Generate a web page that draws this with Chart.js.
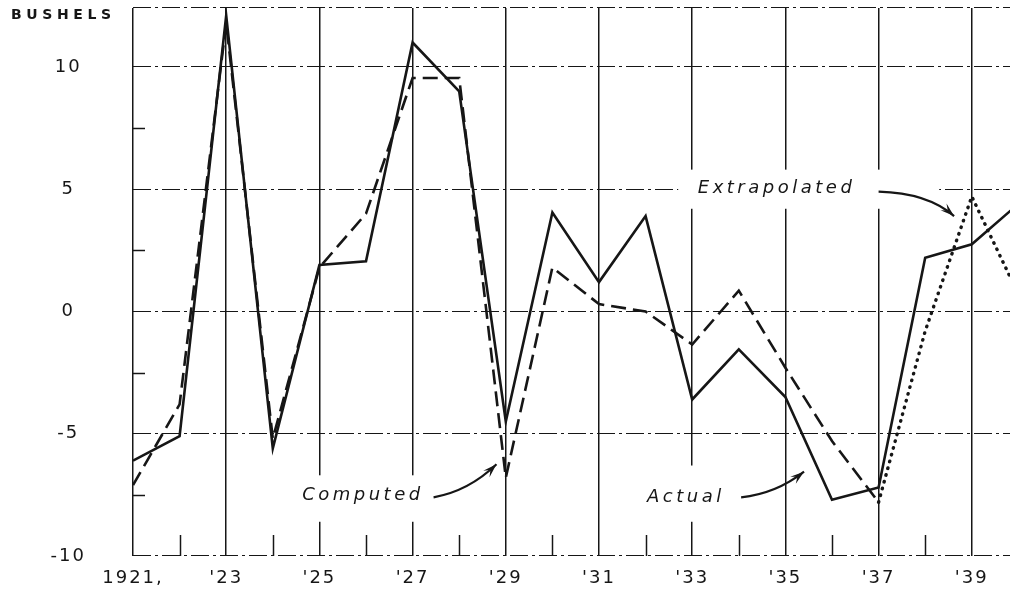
<!DOCTYPE html>
<html>
<head>
<meta charset="utf-8">
<script src="https://cdn.jsdelivr.net/npm/chart.js@4.4.1/dist/chart.umd.min.js"></script>
<style>
html,body{margin:0;padding:0;background:#fff;overflow:hidden}
#wrap{width:1010px;height:596px;position:relative}
</style>
</head>
<body>
<div id="wrap"><canvas id="c" width="1010" height="596"></canvas></div>
<script>
// ---- data ----
const years = [1921,1922,1923,1924,1925,1926,1927,1928,1929,1930,1931,1932,1933,1934,1935,1936,1937,1938,1939,1940];
const actualValues = [-6.1,-5.1,12.1,-5.6,1.9,2.05,11.0,9.0,-4.5,4.05,1.2,3.9,-3.6,-1.55,-3.5,-7.7,-7.2,2.2,2.75,4.4];
const computedYears = [1921,1922,1923,1924,1925,1926,1927,1928,1929,1930,1931,1932,1933,1934,1935,1936,1937];
const computedValues = [-7.1,-3.8,11.8,-5.2,1.8,4.0,9.55,9.55,-6.8,1.8,0.3,0.0,-1.35,0.85,-2.3,-5.3,-7.8];
const extrapolatedYears = [1937,1938,1939,1940];
const extrapolatedValues = [-7.8,-0.8,4.7,0.7];
const yTickValues = [-10,-5,0,5,10];
const yMinorTickValues = [-7.5,-2.5,2.5,7.5];
const xLabelYears = [1921,1923,1925,1927,1929,1931,1933,1935,1937,1939];
const xLabels = ['1921,',"'23","'25","'27","'29","'31","'33","'35","'37","'39"];
const xMinorTickYears = [1922,1924,1926,1928,1930,1932,1934,1936,1938];
const unitLabel = 'BUSHELS';
const noteComputed = 'Computed';
const noteActual = 'Actual';
const noteExtrapolated = 'Extrapolated';

const X_MIN = 1921, X_MAX = 1939.82, Y_MIN = -10, Y_MAX = 12.41;
const INK = '#161616';
const FONT = "'DejaVu Sans', sans-serif";

function pts(xs, ys){ return xs.map((x,i)=>({x:x, y:ys[i]})); }

const spacingPlugin = {
  id:'spacing',
  beforeLayout(chart){ chart.ctx.letterSpacing = '2px'; },
  beforeDraw(chart){
    chart.ctx.letterSpacing = '2px';
    const ctx = chart.ctx;
    ctx.save();
    ctx.fillStyle = '#fff';
    ctx.fillRect(0,0,chart.width,chart.height);
    ctx.restore();
  }
};

// annotation placement in data coordinates
const notes = [
  {text: noteComputed, x:1924.63, y:-7.5, knock:[[1924.4,-6.7,1927.1,-8.6],[1929.8,-6.8,1930.0,-7.4]],
   arrow:{from:[1927.45,-7.6], ctrl:[1928.2,-7.35], to:[1928.8,-6.25]}},
  {text: noteActual, x:1932.03, y:-7.6, knock:[[1931.9,-6.3,1934.0,-8.6],[1934.6,-6.1,1934.95,-7.8]],
   arrow:{from:[1934.05,-7.6], ctrl:[1934.8,-7.45], to:[1935.4,-6.55]}},
  {text: noteExtrapolated, x:1933.12, y:5.05, knock:[[1932.7,5.8,1938.3,4.2]],
   arrow:{from:[1937.0,4.9], ctrl:[1938.05,4.85], to:[1938.62,3.9]}}
];

const decoPlugin = {
  id:'deco',
  beforeDatasetsDraw(chart){
    const ctx = chart.ctx, sx = chart.scales.x, sy = chart.scales.y;
    const px = v => sx.getPixelForValue(v), py = v => sy.getPixelForValue(v);
    const area = chart.chartArea;
    ctx.save();
    ctx.strokeStyle = INK;
    ctx.lineWidth = 1.5;
    // short inner ticks on even years
    xMinorTickYears.forEach(yr=>{
      const x = Math.round(px(yr))+0.5;
      ctx.beginPath(); ctx.moveTo(x, area.bottom); ctx.lineTo(x, area.bottom-21); ctx.stroke();
    });
    // short inner ticks at half steps on the value axis
    yMinorTickValues.forEach(v=>{
      const y = Math.round(py(v))+0.5;
      ctx.beginPath(); ctx.moveTo(area.left, y); ctx.lineTo(area.left+12, y); ctx.stroke();
    });
    // knockouts, notes and arrows
    notes.forEach(n=>{
      ctx.fillStyle = '#fff';
      n.knock.forEach(k=>{
        const x1 = px(k[0]), y1 = py(k[1]), x2 = px(k[2]), y2 = py(k[3]);
        ctx.fillRect(x1, y1, x2-x1, y2-y1);
      });
      ctx.fillStyle = INK;
      ctx.font = 'italic 18px ' + FONT;
      ctx.letterSpacing = '3.5px';
      ctx.textAlign = 'left';
      ctx.textBaseline = 'middle';
      ctx.fillText(n.text, px(n.x), py(n.y));
      const a = n.arrow;
      const x0 = px(a.from[0]), y0 = py(a.from[1]);
      const cx = px(a.ctrl[0]), cy = py(a.ctrl[1]);
      const x1 = px(a.to[0]), y1 = py(a.to[1]);
      ctx.lineWidth = 2.2;
      ctx.beginPath(); ctx.moveTo(x0,y0); ctx.quadraticCurveTo(cx,cy,x1,y1); ctx.stroke();
      const ang = Math.atan2(y1-cy, x1-cx);
      const L = 14, W = 4.5;
      ctx.beginPath();
      ctx.moveTo(x1,y1);
      ctx.lineTo(x1 - L*Math.cos(ang) + W*Math.sin(ang), y1 - L*Math.sin(ang) - W*Math.cos(ang));
      ctx.lineTo(x1 - 0.6*L*Math.cos(ang), y1 - 0.6*L*Math.sin(ang));
      ctx.lineTo(x1 - L*Math.cos(ang) - W*Math.sin(ang), y1 - L*Math.sin(ang) + W*Math.cos(ang));
      ctx.closePath(); ctx.fill();
    });
    // unit label
    ctx.font = 'bold 14px ' + FONT;
    ctx.letterSpacing = '4.6px';
    ctx.textAlign = 'left';
    ctx.textBaseline = 'middle';
    ctx.fillText(unitLabel, 11, 15);
    ctx.restore();
    ctx.letterSpacing = '2px';
  }
};

new Chart(document.getElementById('c'), {
  type:'line',
  data:{
    datasets:[
      {label:'Actual', data:pts(years, actualValues), borderColor:INK, borderWidth:2.6,
       pointRadius:0, tension:0, fill:false, borderJoinStyle:'miter'},
      {label:'Computed', data:pts(computedYears, computedValues), borderColor:INK, borderWidth:2.6,
       borderDash:[15,7], pointRadius:0, tension:0, fill:false},
      {label:'Extrapolated', data:pts(extrapolatedYears, extrapolatedValues), borderColor:INK, borderWidth:3.4,
       borderDash:[0.5,6.5], borderCapStyle:'round', pointRadius:0, tension:0, fill:false}
    ]
  },
  options:{
    responsive:false,
    animation:false,
    devicePixelRatio:1,
    layout:{padding:{top:8,left:0,right:0,bottom:0}},
    plugins:{legend:{display:false}, tooltip:{enabled:false}},
    scales:{
      x:{
        type:'linear', min:X_MIN, max:X_MAX,
        afterBuildTicks(s){ s.ticks = years.filter(v=>v<=X_MAX).map(v=>({value:v})); },
        afterFit(s){ s.height = 40; s.paddingLeft = 0; s.paddingRight = 0; },
        ticks:{
          autoSkip:false, maxRotation:0, minRotation:0, padding:12, color:INK,
          font:{family:FONT, size:18},
          callback(v){ const i = xLabelYears.indexOf(v); return i>=0 ? xLabels[i] : ''; }
        },
        grid:{
          drawTicks:false,
          color(c){ return (c.tick && xLabelYears.includes(c.tick.value)) ? INK : 'rgba(0,0,0,0)'; },
          lineWidth:1.5
        },
        border:{display:false}
      },
      y:{
        type:'linear', min:Y_MIN, max:Y_MAX,
        afterBuildTicks(s){ s.ticks = yTickValues.concat([Y_MAX]).map(v=>({value:v})); },
        afterFit(s){ s.width = 133; s.paddingTop = 0; s.paddingBottom = 0; },
        ticks:{
          crossAlign:'center', padding:47, color:INK,
          font:{family:FONT, size:18},
          callback(v){ return yTickValues.includes(v) ? String(v) : ''; }
        },
        grid:{drawTicks:false, color:INK, lineWidth:1.1},
        border:{display:false, dash:[18,4,3,4]}
      }
    }
  },
  plugins:[spacingPlugin, decoPlugin]
});
</script>
</body>
</html>
